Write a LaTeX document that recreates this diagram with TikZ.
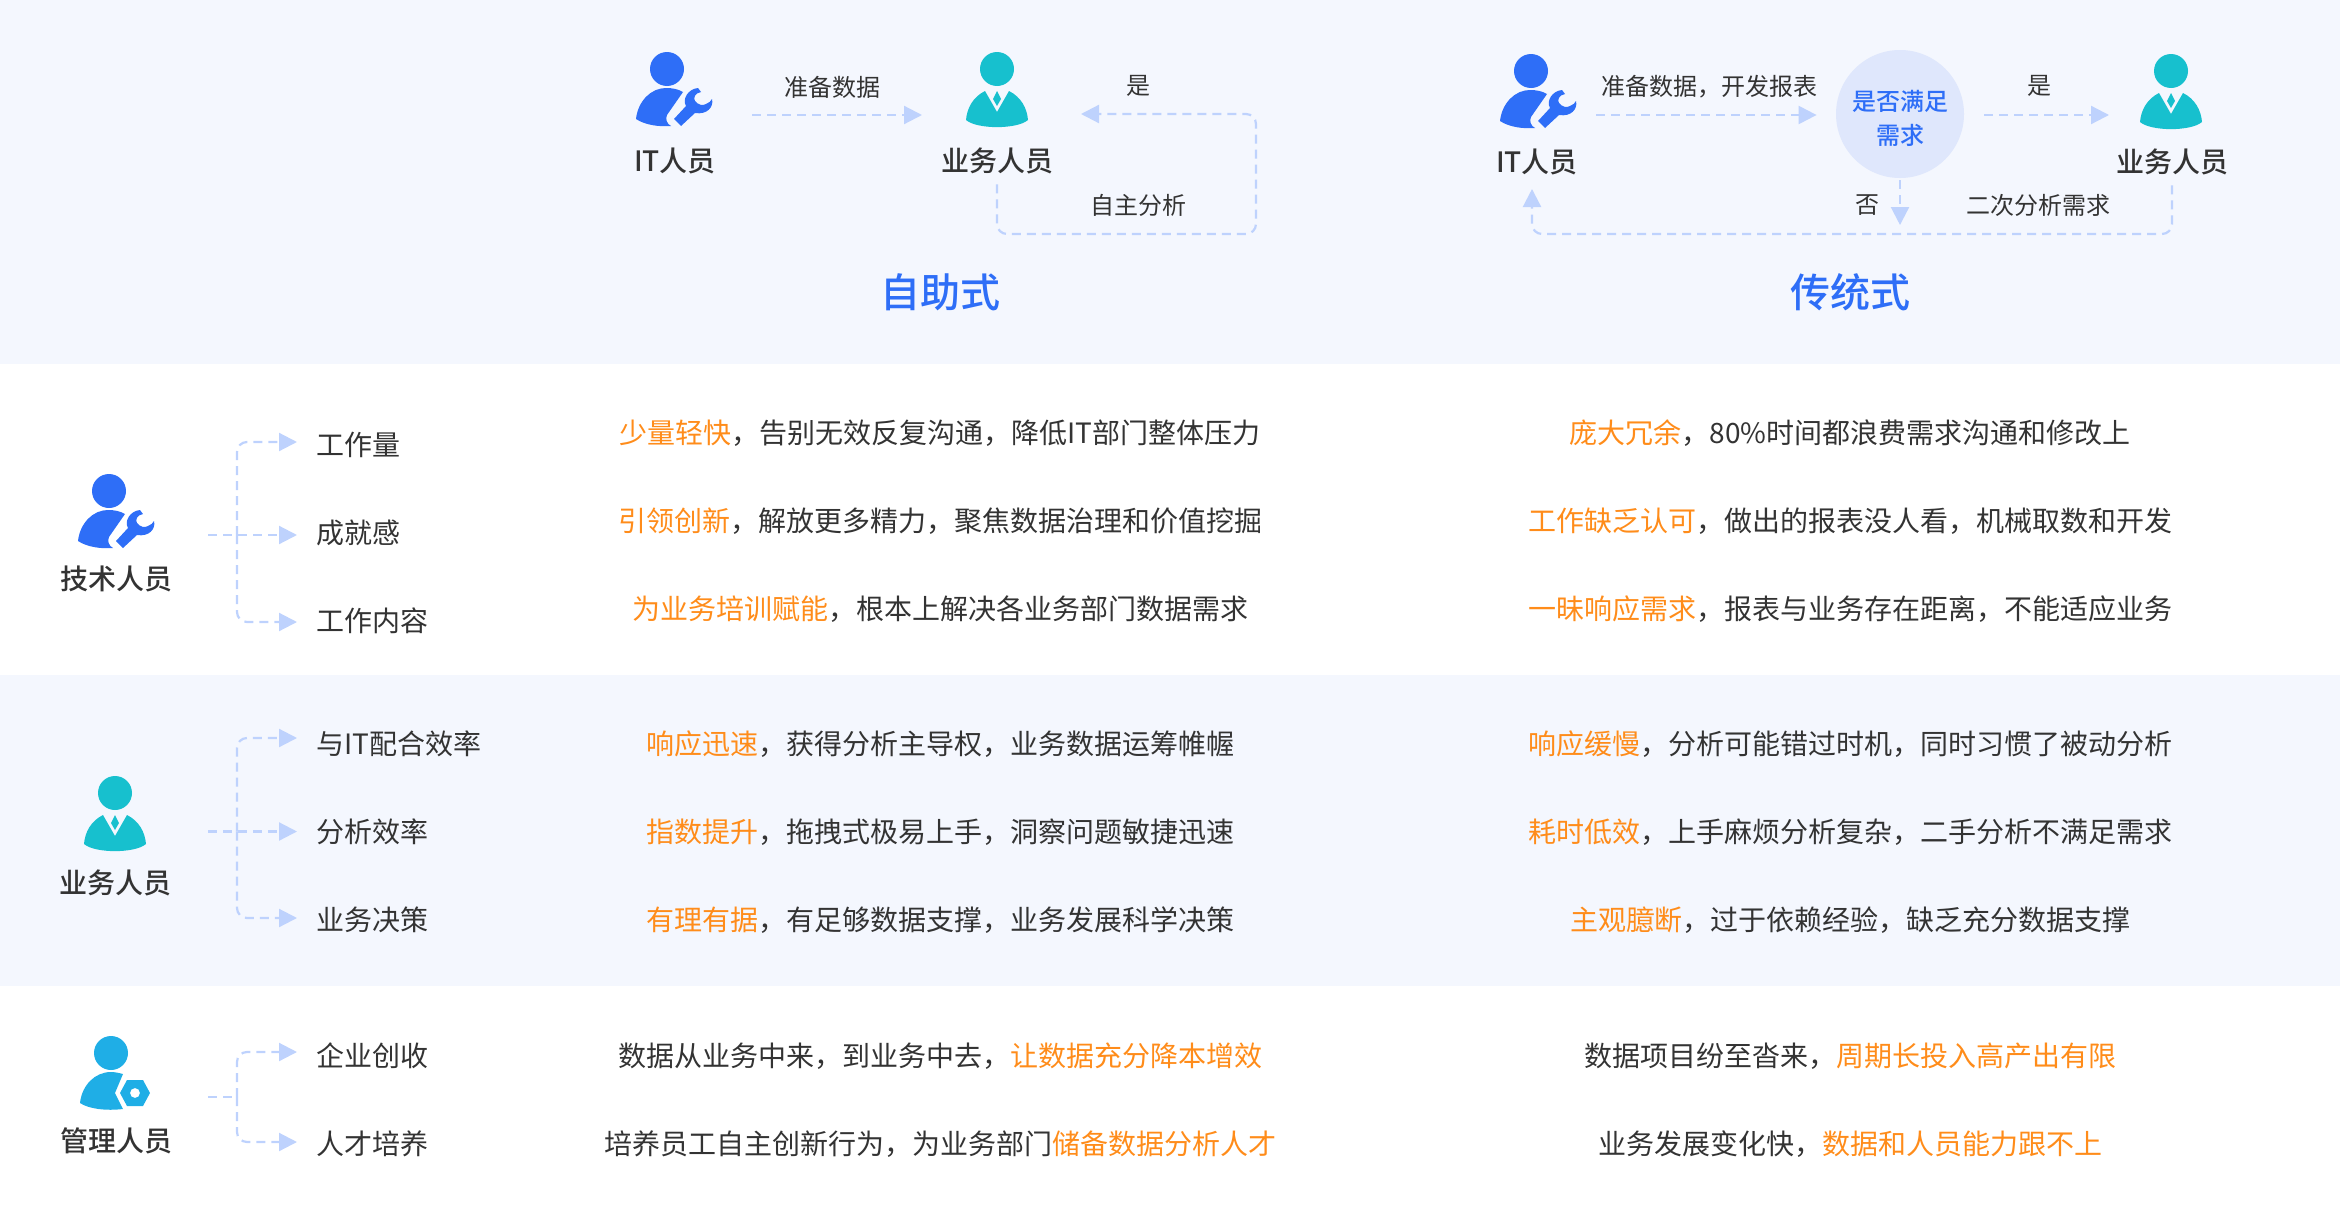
\documentclass[tikz,border=0pt]{standalone}
\usepackage{fontspec}
\usepackage{xcolor}
\usepackage{tikz}
\usetikzlibrary{arrows.meta}
\setmainfont{Noto Sans CJK SC}
\newfontfamily\medfont{Noto Sans CJK SC Medium}
\definecolor{bandblue}{HTML}{F4F7FE}
\definecolor{lineblue}{HTML}{BED2FD}
\definecolor{titleblue}{HTML}{2E6EF7}
\definecolor{judgeblue}{HTML}{DFE7FC}
\definecolor{bizteal}{HTML}{17C0CE}
\definecolor{mgrblue}{HTML}{1FAEE6}
\definecolor{hlorange}{HTML}{FF8C1A}
\definecolor{txtdark}{HTML}{333333}
\newcommand{\hl}[1]{\textcolor{hlorange}{#1}}
\tikzset{
	flowline/.style={draw=lineblue, line width=1.1pt, dash pattern=on 4.5pt off 3pt, rounded corners=5pt, -{Triangle[length=9pt,width=9pt,fill=lineblue]}},
	spineline/.style={draw=lineblue, line width=1.1pt, dash pattern=on 4.5pt off 3pt},
	txt/.style={inner sep=0pt, text=txtdark, font=\fontsize{14pt}{17pt}\selectfont},
	smalltxt/.style={inner sep=0pt, text=txtdark, font=\fontsize{12pt}{15pt}\selectfont},
	roletxt/.style={inner sep=0pt, text=txtdark, font=\medfont\fontsize{14pt}{16pt}\selectfont},
	itemtxt/.style={txt, anchor=west},
	titletxt/.style={inner sep=0pt, text=titleblue, font=\medfont\fontsize{20pt}{24pt}\selectfont},
	judge/.style={circle, fill=judgeblue, minimum size=64pt, inner sep=0pt, align=center, text=titleblue, font=\medfont\fontsize{12pt}{17pt}\selectfont},
	pics/techicon/.style={code={
		\fill[titleblue] (0,0) circle [radius=17];
		\fill[titleblue] (-31,50) .. controls (-29,32) and (-16,19) .. (-1,19) .. controls (5,19) and (11,20) .. (16,23) -- (0,46) .. controls (-2,50) and (0,55) .. (4,57) .. controls (-8,58) and (-22,56) .. (-31,50) -- cycle;
		\fill[titleblue] (7,50) -- (19,37) .. controls (15,30) and (21,20) .. (31,19) -- (34,23) .. controls (28,24) and (26,29) .. (28,32) .. controls (31,36) and (36,37) .. (39,35) .. controls (42,34) and (44,32) .. (45,30) .. controls (47,38) and (40,46) .. (28,44) -- (14,57) -- cycle;
	}},
	pics/bizicon/.style={code={
		\fill[bizteal] (0,0) circle [radius=17];
		\fill[bizteal] (-31,51) .. controls (-30,39) and (-24,28) .. (-12,22) -- (0,43) -- (12,22) .. controls (24,28) and (30,39) .. (31,51) .. controls (20,60.5) and (-20,60.5) .. (-31,51) -- cycle;
		\fill[bizteal] (0,22) -- (-4,30) -- (0,37) -- (4,30) -- cycle;
	}},
	pics/mgricon/.style={code={
		\fill[mgrblue] (0,0) circle [radius=17];
		\fill[mgrblue] (-31,50) .. controls (-29,32) and (-16,19) .. (0,19) .. controls (4,19) and (8,20) .. (12,21) -- (4,40) -- (12,56) .. controls (-5,58) and (-22,56) .. (-31,50) -- cycle;
		\fill[mgrblue, even odd rule] (9,40) -- (16,27) -- (32,27) -- (39,40) -- (32,53) -- (16,53) -- cycle (24,40) circle [radius=5];
	}},
}
\begin{document}
\begin{tikzpicture}[x=0.5pt, y=-0.5pt]
	\useasboundingbox (0,0) rectangle (2340,1210);
	\fill[bandblue] (0,0) rectangle (2340,364);
	\fill[bandblue] (0,675) rectangle (2340,986);

	% top left
	\pic at (667,69) {techicon};
	\pic at (997,69) {bizicon};
	\node at (675,161) (itAname) [roletxt] {IT人员};
	\node at (997,161) (bizAname) [roletxt] {业务人员};
	\node at (832,87) (prepA) [smalltxt] {准备数据};
	\node at (1138,86) (yesA) [smalltxt] {是};
	\node at (1138,205.5) (selfA) [smalltxt] {自主分析};
	\node at (940,292) (titleA) [titletxt] {自助式};
	\coordinate (itAout) at (752,115);
	\coordinate (bizAin) at (922,115);
	\coordinate (loopAin) at (1081,114);
	\coordinate (loopAcorner) at (1256,234);
	\draw[flowline] (itAout) -- (bizAin);
	\draw[flowline, shorten <=5pt] (bizAname.south) |- (loopAcorner) |- (loopAin);

	% top right
	\pic at (1531,71) {techicon};
	\pic at (2171,71) {bizicon};
	\node at (1537,162) (itBname) [roletxt] {IT人员};
	\node at (2172,162) (bizBname) [roletxt] {业务人员};
	\node at (1709,87) (prepB) [smalltxt] {准备数据，开发报表};
	\node at (1900,114) (need) [judge] {\rule{0pt}{15pt}是否满足\\需求};
	\node at (2039,86) (yesB) [smalltxt] {是};
	\node at (1867,205.5) (noB) [smalltxt] {否};
	\node at (2038,205.5) (againB) [smalltxt] {二次分析需求};
	\node at (1850,292) (titleB) [titletxt] {传统式};
	\coordinate (itBout) at (1596,115);
	\coordinate (bizBin) at (2109,115);
	\coordinate (noBin) at (1900,225);
	\coordinate (loopBin) at (1532,189);
	\coordinate (loopBcorner) at (1532,234);
	\draw[flowline, shorten >=9.5pt] (itBout) -- (need.west |- itBout);
	\draw[flowline, shorten <=10pt] (need.east |- bizBin) -- (bizBin);
	\draw[flowline, shorten <=1pt] (need.south) -- (noBin);
	\draw[flowline, shorten <=5pt] (bizBname.south) |- (loopBcorner) -- (loopBin);

	% tech row
	\pic at (109,491) {techicon};
	\node at (116,579) (techname) [roletxt] {技术人员};
	\node at (316,445) (load) [itemtxt] {工作量};
	\node at (316,533) (pride) [itemtxt] {成就感};
	\node at (316,620.5) (work) [itemtxt] {工作内容};
	\coordinate (techsrc) at (208,535);
	\coordinate (techfork) at (237,535);
	\draw[flowline, shorten >=9.5pt] (techsrc) -- (techsrc -| pride.west);
	\draw[flowline, shorten >=9.5pt] (techfork) |- ([yshift=1.5pt]load.west);
	\draw[flowline, shorten >=9.5pt] (techfork) |- ([yshift=-0.75pt]work.west);
	\node at (940,433) (t1a) [txt] {\hl{少量轻快}，告别无效反复沟通，降低IT部门整体压力};
	\node at (940,521.5) (t2a) [txt] {\hl{引领创新}，解放更多精力，聚焦数据治理和价值挖掘};
	\node at (940,609) (t3a) [txt] {\hl{为业务培训赋能}，根本上解决各业务部门数据需求};
	\node at (1850,433) (t1b) [txt] {\hl{庞大冗余}，80\%时间都浪费需求沟通和修改上};
	\node at (1850,521.5) (t2b) [txt] {\hl{工作缺乏认可}，做出的报表没人看，机械取数和开发};
	\node at (1850,609) (t3b) [txt] {\hl{一昧响应需求}，报表与业务存在距离，不能适应业务};

	% business row
	\pic at (115,793) {bizicon};
	\node at (115.5,883) (bizname) [roletxt] {业务人员};
	\node at (316,744) (match) [itemtxt] {与IT配合效率};
	\node at (316,831.5) (speed) [itemtxt] {分析效率};
	\node at (316,920) (decide) [itemtxt] {业务决策};
	\coordinate (bizsrc) at (208,831.5);
	\coordinate (bizfork) at (237,831.5);
	\draw[flowline, shorten >=9.5pt] (bizsrc) -- (speed.west);
	\draw[flowline, shorten >=9.5pt] (bizfork) |- ([yshift=3pt]match.west);
	\draw[flowline, shorten >=9.5pt] (bizfork) |- ([yshift=1pt]decide.west);
	\node at (940,744) (b1a) [txt] {\hl{响应迅速}，获得分析主导权，业务数据运筹帷幄};
	\node at (940,832) (b2a) [txt] {\hl{指数提升}，拖拽式极易上手，洞察问题敏捷迅速};
	\node at (940,920) (b3a) [txt] {\hl{有理有据}，有足够数据支撑，业务发展科学决策};
	\node at (1850,744) (b1b) [txt] {\hl{响应缓慢}，分析可能错过时机，同时习惯了被动分析};
	\node at (1850,832) (b2b) [txt] {\hl{耗时低效}，上手麻烦分析复杂，二手分析不满足需求};
	\node at (1850,920) (b3b) [txt] {\hl{主观臆断}，过于依赖经验，缺乏充分数据支撑};

	% manager row
	\pic at (111,1053) {mgricon};
	\node at (116,1141) (mgrname) [roletxt] {管理人员};
	\node at (316,1056) (income) [itemtxt] {企业创收};
	\node at (316,1143.5) (talent) [itemtxt] {人才培养};
	\coordinate (mgrsrc) at (208,1097);
	\coordinate (mgrfork) at (237,1097);
	\draw[spineline] (mgrsrc) -- (mgrfork);
	\draw[flowline, shorten >=9.5pt] (mgrfork) |- ([yshift=2pt]income.west);
	\draw[flowline, shorten >=9.5pt] (mgrfork) |- ([yshift=0.75pt]talent.west);
	\node at (940,1056) (m1a) [txt] {数据从业务中来，到业务中去，\hl{让数据充分降本增效}};
	\node at (940,1144.5) (m2a) [txt] {培养员工自主创新行为，为业务部门\hl{储备数据分析人才}};
	\node at (1850,1056) (m1b) [txt] {数据项目纷至沓来，\hl{周期长投入高产出有限}};
	\node at (1850,1144.5) (m2b) [txt] {业务发展变化快，\hl{数据和人员能力跟不上}};
\end{tikzpicture}
\end{document}
